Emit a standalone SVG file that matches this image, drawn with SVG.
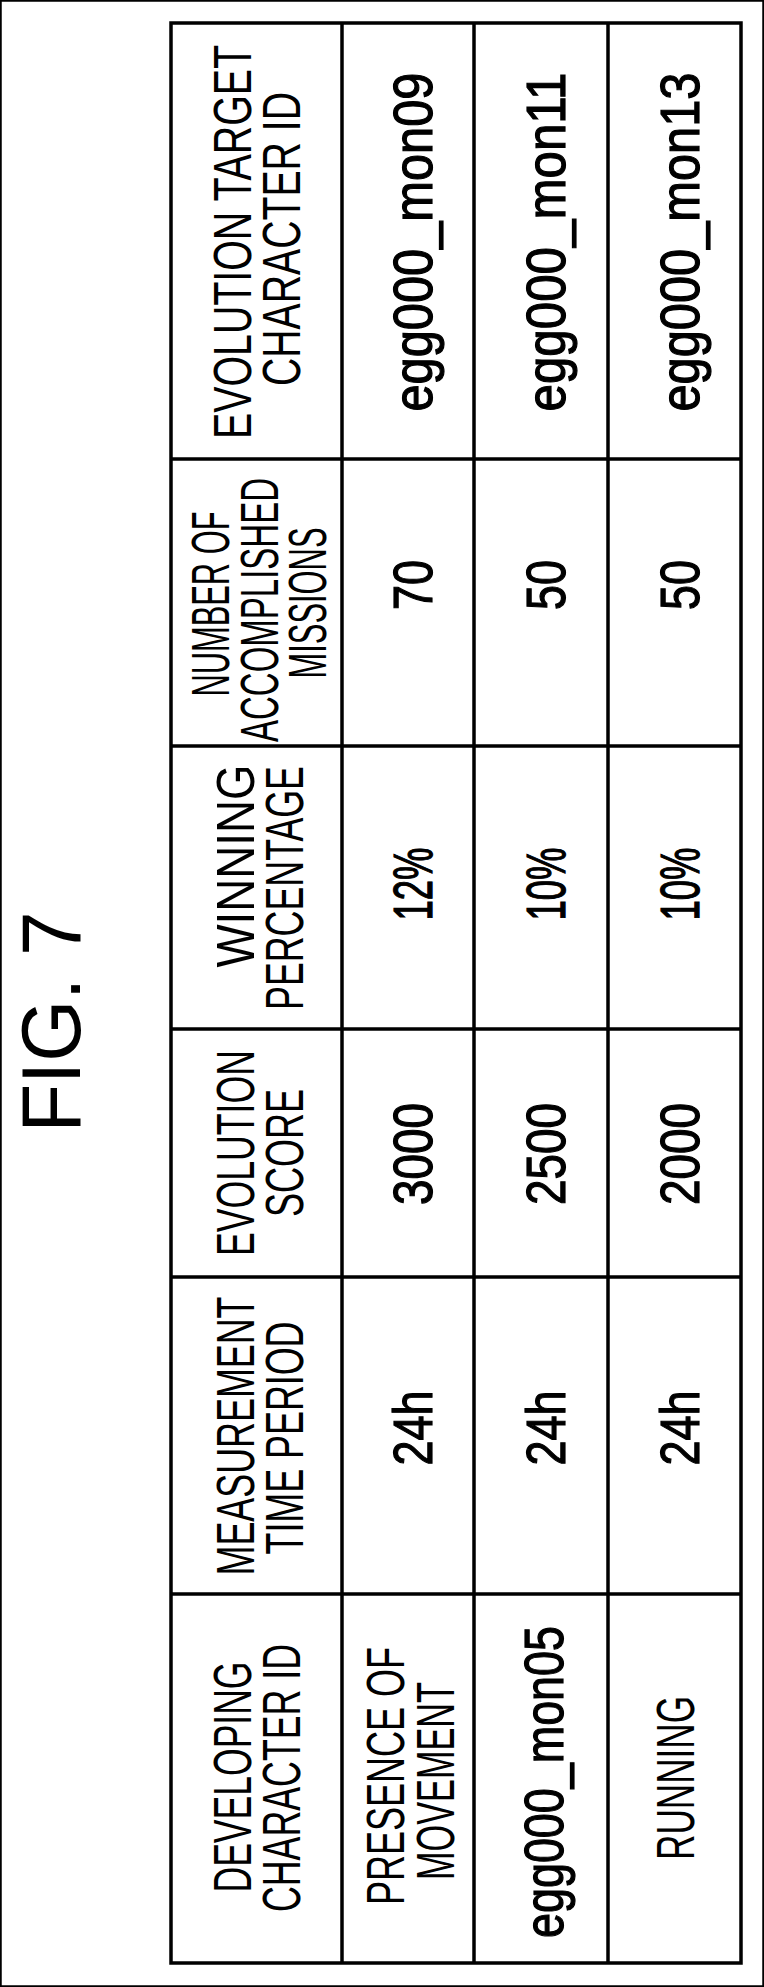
<svg xmlns="http://www.w3.org/2000/svg" width="764" height="1987" viewBox="0 0 764 1987">
<style>
text{font-family:"Liberation Sans",Arial,sans-serif;fill:#000;text-anchor:middle}
.h{font-size:54px}
.d{font-size:56px;stroke:#000;stroke-width:1.2}
.fig{font-size:83px}
line,rect{stroke:#000;stroke-width:3.5;fill:none}
</style>
<rect width="764" height="1987" fill="#fff" stroke="none"/>
<g id="title"><text class="fig" transform="translate(80,1022) rotate(-90)" textLength="221" lengthAdjust="spacingAndGlyphs">FIG. 7</text></g>
<g id="grid">
<rect x="171" y="23" width="570" height="1940" stroke-width="4"/>
<line x1="342" y1="23" x2="342" y2="1963"/>
<line x1="474" y1="23" x2="474" y2="1963"/>
<line x1="608" y1="23" x2="608" y2="1963"/>
<line x1="171" y1="459" x2="741" y2="459"/>
<line x1="171" y1="746" x2="741" y2="746"/>
<line x1="171" y1="1029" x2="741" y2="1029"/>
<line x1="171" y1="1277" x2="741" y2="1277"/>
<line x1="171" y1="1594" x2="741" y2="1594"/>
</g>
<g id="headers">
<text class="h" transform="translate(251,242) rotate(-90)" textLength="394" lengthAdjust="spacingAndGlyphs">EVOLUTION TARGET</text>
<text class="h" transform="translate(300,239) rotate(-90)" textLength="294" lengthAdjust="spacingAndGlyphs">CHARACTER ID</text>
<text class="h" transform="translate(229,604) rotate(-90)" textLength="185" lengthAdjust="spacingAndGlyphs">NUMBER OF</text>
<text class="h" transform="translate(278,610) rotate(-90)" textLength="264" lengthAdjust="spacingAndGlyphs">ACCOMPLISHED</text>
<text class="h" transform="translate(326,603) rotate(-90)" textLength="151" lengthAdjust="spacingAndGlyphs">MISSIONS</text>
<text class="h" transform="translate(254,866) rotate(-90)" textLength="203" lengthAdjust="spacingAndGlyphs">WINNING</text>
<text class="h" transform="translate(303,888) rotate(-90)" textLength="244" lengthAdjust="spacingAndGlyphs">PERCENTAGE</text>
<text class="h" transform="translate(254,1153) rotate(-90)" textLength="206" lengthAdjust="spacingAndGlyphs">EVOLUTION</text>
<text class="h" transform="translate(303,1153) rotate(-90)" textLength="128" lengthAdjust="spacingAndGlyphs">SCORE</text>
<text class="h" transform="translate(254,1436) rotate(-90)" textLength="279" lengthAdjust="spacingAndGlyphs">MEASUREMENT</text>
<text class="h" transform="translate(303,1438) rotate(-90)" textLength="233" lengthAdjust="spacingAndGlyphs">TIME PERIOD</text>
<text class="h" transform="translate(251,1777) rotate(-90)" textLength="231" lengthAdjust="spacingAndGlyphs">DEVELOPING</text>
<text class="h" transform="translate(300,1778) rotate(-90)" textLength="268" lengthAdjust="spacingAndGlyphs">CHARACTER ID</text>
</g>
<g id="row1">
<text class="d" transform="translate(432,242) rotate(-90)" textLength="339" lengthAdjust="spacingAndGlyphs">egg000_mon09</text>
<text class="d" transform="translate(432,585) rotate(-90)" textLength="50" lengthAdjust="spacingAndGlyphs">70</text>
<text class="d" transform="translate(432,884) rotate(-90)" textLength="73" lengthAdjust="spacingAndGlyphs">12%</text>
<text class="d" transform="translate(432,1154) rotate(-90)" textLength="102" lengthAdjust="spacingAndGlyphs">3000</text>
<text class="d" transform="translate(432,1428) rotate(-90)" textLength="75" lengthAdjust="spacingAndGlyphs">24h</text>
<text class="h" transform="translate(404,1776) rotate(-90)" textLength="258" lengthAdjust="spacingAndGlyphs">PRESENCE OF</text>
<text class="h" transform="translate(454,1781) rotate(-90)" textLength="198" lengthAdjust="spacingAndGlyphs">MOVEMENT</text>
</g>
<g id="row2">
<text class="d" transform="translate(565,242) rotate(-90)" textLength="339" lengthAdjust="spacingAndGlyphs">egg000_mon11</text>
<text class="d" transform="translate(565,585) rotate(-90)" textLength="50" lengthAdjust="spacingAndGlyphs">50</text>
<text class="d" transform="translate(565,884) rotate(-90)" textLength="73" lengthAdjust="spacingAndGlyphs">10%</text>
<text class="d" transform="translate(565,1154) rotate(-90)" textLength="102" lengthAdjust="spacingAndGlyphs">2500</text>
<text class="d" transform="translate(565,1428) rotate(-90)" textLength="75" lengthAdjust="spacingAndGlyphs">24h</text>
<text class="d" transform="translate(563,1782) rotate(-90)" textLength="312" lengthAdjust="spacingAndGlyphs">egg000_mon05</text>
</g>
<g id="row3">
<text class="d" transform="translate(699,242) rotate(-90)" textLength="339" lengthAdjust="spacingAndGlyphs">egg000_mon13</text>
<text class="d" transform="translate(699,585) rotate(-90)" textLength="50" lengthAdjust="spacingAndGlyphs">50</text>
<text class="d" transform="translate(699,884) rotate(-90)" textLength="73" lengthAdjust="spacingAndGlyphs">10%</text>
<text class="d" transform="translate(699,1154) rotate(-90)" textLength="102" lengthAdjust="spacingAndGlyphs">2000</text>
<text class="d" transform="translate(699,1428) rotate(-90)" textLength="75" lengthAdjust="spacingAndGlyphs">24h</text>
<text class="h" transform="translate(694,1778) rotate(-90)" textLength="164" lengthAdjust="spacingAndGlyphs">RUNNING</text>
</g>
</svg>
